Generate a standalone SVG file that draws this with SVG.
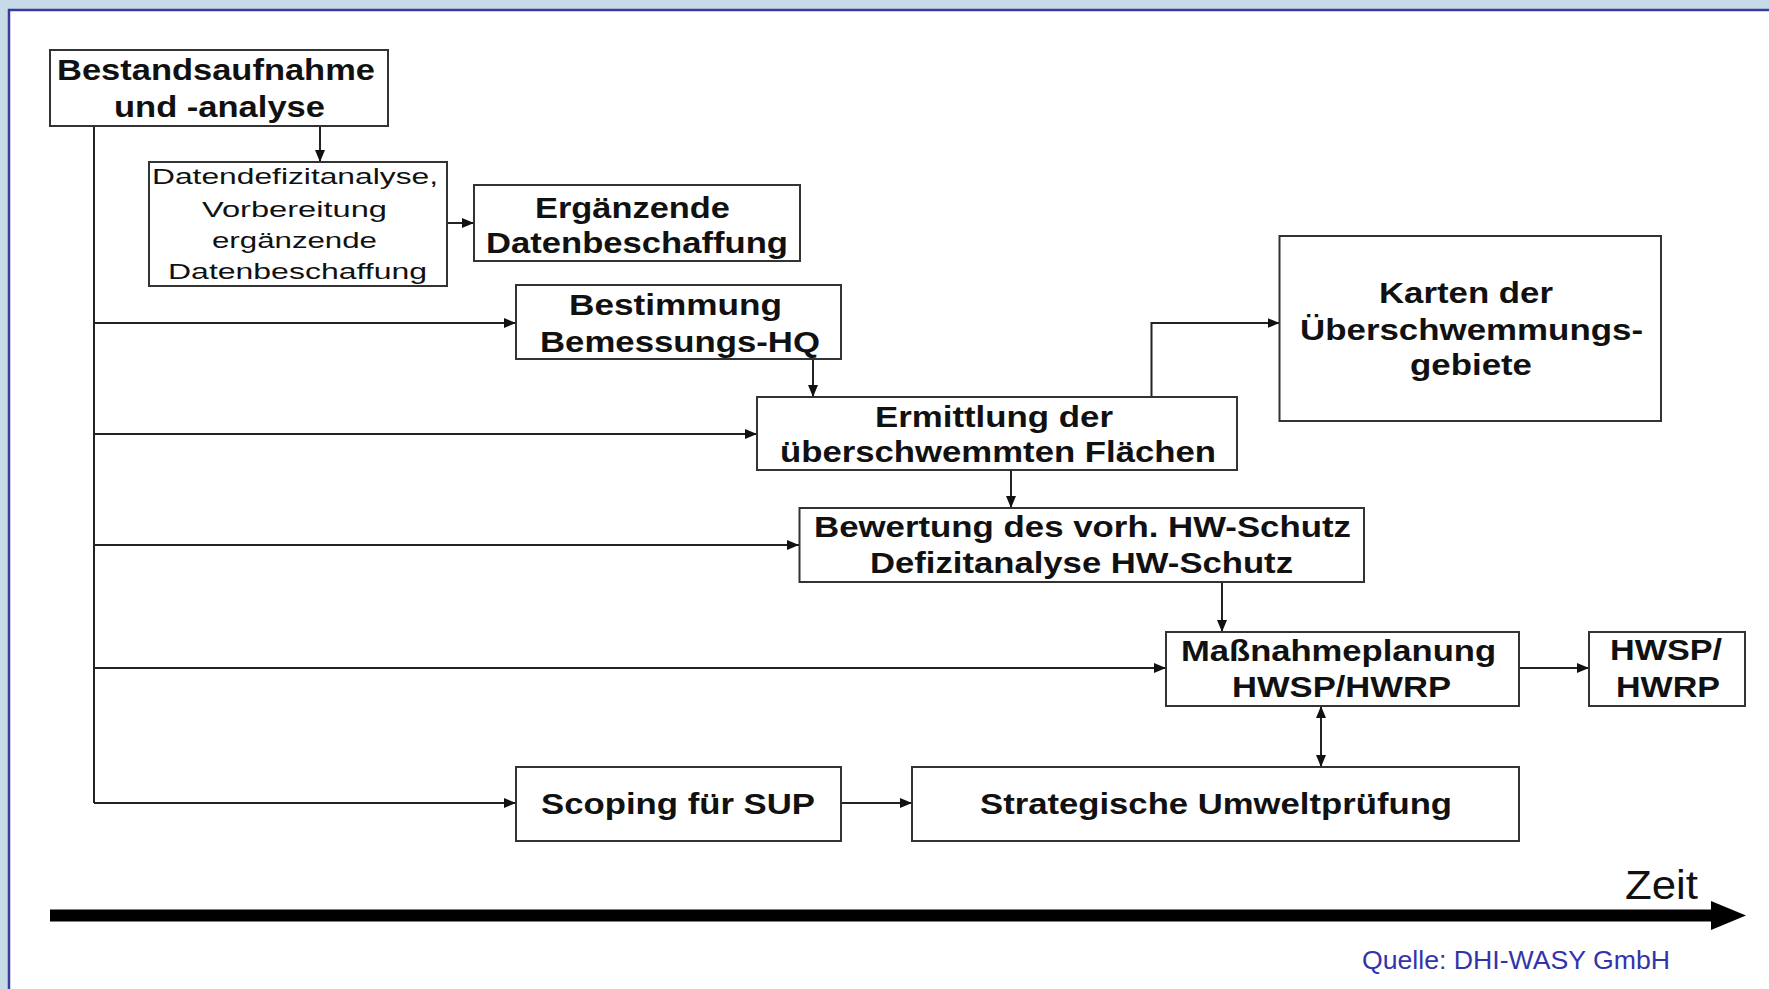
<svg xmlns="http://www.w3.org/2000/svg" width="1769" height="989" viewBox="0 0 1769 989">
<style>
.box{fill:#fff;stroke:#333;stroke-width:2}
.b{font-family:"Liberation Sans",Arial,sans-serif;font-weight:bold;font-size:29px;fill:#111}
.r{font-family:"Liberation Sans",Arial,sans-serif;font-size:22px;fill:#111}
.ln{fill:none;stroke:#222;stroke-width:2}
</style>
<defs>
<marker id="arr" viewBox="0 0 12 10" refX="12" refY="5" markerWidth="12" markerHeight="10" markerUnits="userSpaceOnUse" orient="auto-start-reverse">
<path d="M0,0 L12,5 L0,10 z" fill="#111"/>
</marker>
</defs>
<rect x="0" y="0" width="1769" height="989" fill="#c6dbe7"/>
<rect x="9" y="10" width="1790" height="1000" fill="#fff" stroke="#3b3b9e" stroke-width="2.5"/>

<g id="connectors">
<path class="ln" d="M94,126 V803"/>
<path class="ln" d="M320,126 V162" marker-end="url(#arr)"/>
<path class="ln" d="M447,223 H474" marker-end="url(#arr)"/>
<path class="ln" d="M94,323 H516" marker-end="url(#arr)"/>
<path class="ln" d="M94,434 H757" marker-end="url(#arr)"/>
<path class="ln" d="M94,545 H799" marker-end="url(#arr)"/>
<path class="ln" d="M94,668 H1166" marker-end="url(#arr)"/>
<path class="ln" d="M94,803 H516" marker-end="url(#arr)"/>
<path class="ln" d="M813,359 V397" marker-end="url(#arr)"/>
<path class="ln" d="M1011,470 V508" marker-end="url(#arr)"/>
<path class="ln" d="M1222,582 V632" marker-end="url(#arr)"/>
<path class="ln" d="M1151.5,397 V323 H1279.5" marker-end="url(#arr)"/>
<path class="ln" d="M1519,668 H1589" marker-end="url(#arr)"/>
<path class="ln" d="M841,803 H912" marker-end="url(#arr)"/>
<path class="ln" d="M1321,706 V767" marker-start="url(#arr)" marker-end="url(#arr)"/>
</g>

<g id="n-bestand">
<rect class="box" x="50" y="50" width="338" height="76"/>
<text class="b" x="57" y="80" textLength="318" lengthAdjust="spacingAndGlyphs">Bestandsaufnahme</text>
<text class="b" x="114" y="117" textLength="211" lengthAdjust="spacingAndGlyphs">und -analyse</text>
</g>

<g id="n-datendefizit">
<rect class="box" x="149" y="162" width="298" height="124"/>
<text class="r" x="152" y="184" textLength="286" lengthAdjust="spacingAndGlyphs">Datendefizitanalyse,</text>
<text class="r" x="202" y="217" textLength="185" lengthAdjust="spacingAndGlyphs">Vorbereitung</text>
<text class="r" x="212" y="248" textLength="165" lengthAdjust="spacingAndGlyphs">ergänzende</text>
<text class="r" x="168" y="279" textLength="259" lengthAdjust="spacingAndGlyphs">Datenbeschaffung</text>
</g>

<g id="n-ergaenzende">
<rect class="box" x="474" y="185" width="326" height="76"/>
<text class="b" x="535" y="218" textLength="195" lengthAdjust="spacingAndGlyphs">Ergänzende</text>
<text class="b" x="486" y="253" textLength="302" lengthAdjust="spacingAndGlyphs">Datenbeschaffung</text>
</g>

<g id="n-bestimmung">
<rect class="box" x="516" y="285" width="325" height="74"/>
<text class="b" x="569" y="315" textLength="213" lengthAdjust="spacingAndGlyphs">Bestimmung</text>
<text class="b" x="540" y="352" textLength="280" lengthAdjust="spacingAndGlyphs">Bemessungs-HQ</text>
</g>

<g id="n-ermittlung">
<rect class="box" x="757" y="397" width="480" height="73"/>
<text class="b" x="875" y="427" textLength="238" lengthAdjust="spacingAndGlyphs">Ermittlung der</text>
<text class="b" x="780" y="462" textLength="436" lengthAdjust="spacingAndGlyphs">überschwemmten Flächen</text>
</g>

<g id="n-karten">
<rect class="box" x="1279.5" y="236" width="381.5" height="185"/>
<text class="b" x="1379" y="303" textLength="174" lengthAdjust="spacingAndGlyphs">Karten der</text>
<text class="b" x="1300" y="340" textLength="343" lengthAdjust="spacingAndGlyphs">Überschwemmungs-</text>
<text class="b" x="1410" y="375" textLength="122" lengthAdjust="spacingAndGlyphs">gebiete</text>
</g>

<g id="n-bewertung">
<rect class="box" x="799.5" y="508" width="564.5" height="74"/>
<text class="b" x="814" y="537" textLength="537" lengthAdjust="spacingAndGlyphs">Bewertung des vorh. HW-Schutz</text>
<text class="b" x="870" y="573" textLength="423" lengthAdjust="spacingAndGlyphs">Defizitanalyse HW-Schutz</text>
</g>

<g id="n-massnahme">
<rect class="box" x="1166" y="632" width="353" height="74"/>
<text class="b" x="1181" y="661" textLength="315" lengthAdjust="spacingAndGlyphs">Maßnahmeplanung</text>
<text class="b" x="1232" y="697" textLength="219" lengthAdjust="spacingAndGlyphs">HWSP/HWRP</text>
</g>

<g id="n-hwsp">
<rect class="box" x="1589" y="632" width="156" height="74"/>
<text class="b" x="1610" y="660" textLength="112" lengthAdjust="spacingAndGlyphs">HWSP/</text>
<text class="b" x="1616" y="697" textLength="104" lengthAdjust="spacingAndGlyphs">HWRP</text>
</g>

<g id="n-scoping">
<rect class="box" x="516" y="767" width="325" height="74"/>
<text class="b" x="541" y="814" textLength="274" lengthAdjust="spacingAndGlyphs">Scoping für SUP</text>
</g>

<g id="n-sup">
<rect class="box" x="912" y="767" width="607" height="74"/>
<text class="b" x="980" y="814" textLength="472" lengthAdjust="spacingAndGlyphs">Strategische Umweltprüfung</text>
</g>

<g id="timeline">
<rect x="50" y="909.5" width="1664" height="12" fill="#000"/>
<polygon points="1711,901 1746,915.5 1711,930" fill="#000"/>
<text x="1625" y="899" font-family="Liberation Sans, Arial, sans-serif" font-size="40" fill="#111" textLength="73" lengthAdjust="spacingAndGlyphs">Zeit</text>
</g>

<text x="1362" y="969" font-family="Liberation Sans, Arial, sans-serif" font-size="26" fill="#3434aa" textLength="308" lengthAdjust="spacingAndGlyphs">Quelle: DHI-WASY GmbH</text>
</svg>
